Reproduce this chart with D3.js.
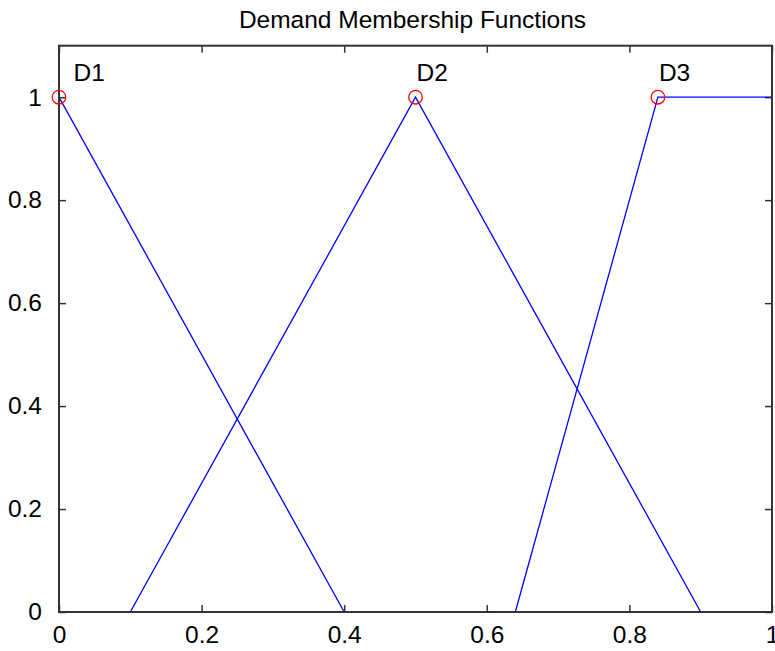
<!DOCTYPE html>
<html>
<head>
<meta charset="utf-8">
<script src="https://cdn.jsdelivr.net/npm/d3@7"></script>
<style>
  html, body { margin: 0; padding: 0; background: #fff; }
  svg { display: block; }
  text { font-family: "Liberation Sans", Arial, sans-serif; fill: #000; }
</style>
</head>
<body>
<svg id="chart" width="775" height="651"></svg>
<script>
// Membership functions over normalised demand
const mfNames = ["D1", "D2", "D3"];
const mfX = [
  [0, 0.4],
  [0.1, 0.5, 0.9],
  [0.64, 0.84, 1]
];
const mfY = [
  [1, 0],
  [0, 1, 0],
  [0, 1, 1]
];
const peakX = [0, 0.5, 0.84];
const labelX = [0.019, 0.5, 0.84];
const xTicks = [0, 0.2, 0.4, 0.6, 0.8, 1];
const yTicks = [0, 0.2, 0.4, 0.6, 0.8, 1];
const xTickLabels = ["0", "0.2", "0.4", "0.6", "0.8", "1"];
const yTickLabels = ["0", "0.2", "0.4", "0.6", "0.8", "1"];
const title = "Demand Membership Functions";

const svg = d3.select("#chart");
const plotLeft = 59, plotRight = 772, plotTop = 45.7, plotBottom = 612;

const x = d3.scaleLinear().domain([0, 1]).range([plotLeft, plotRight]);
const y = d3.scaleLinear().domain([0, 1.1]).range([plotBottom, plotTop]);

const fontSize = 24.5;
const tickLen = 7;
const axisColor = "#333";

// Ticks (inward on all four sides)
const g = svg.append("g");
const bottomAxis = d3.axisBottom(x).tickValues(xTicks).tickSizeInner(-tickLen).tickSizeOuter(0)
  .tickFormat((d, i) => xTickLabels[i]).tickPadding(14);
const leftAxis = d3.axisLeft(y).tickValues(yTicks).tickSizeInner(-tickLen).tickSizeOuter(0)
  .tickFormat((d, i) => yTickLabels[i]).tickPadding(17);
const topAxis = d3.axisTop(x).tickValues(xTicks).tickSizeInner(-tickLen).tickSizeOuter(0).tickFormat("");
const rightAxis = d3.axisRight(y).tickValues(yTicks).tickSizeInner(-tickLen).tickSizeOuter(0).tickFormat("");

function styleAxis(sel) {
  sel.select(".domain").remove();
  sel.selectAll("line").attr("stroke", axisColor).attr("stroke-width", 1.5);
  sel.selectAll("text").attr("font-size", fontSize).attr("font-family", "Liberation Sans, Arial, sans-serif").attr("fill", "#000");
}
g.append("g").attr("transform", `translate(0,${plotBottom})`).call(bottomAxis).call(styleAxis);
g.append("g").attr("transform", `translate(${plotLeft},0)`).call(leftAxis).call(styleAxis);
g.append("g").attr("transform", `translate(0,${plotTop})`).call(topAxis).call(styleAxis);
g.append("g").attr("transform", `translate(${plotRight},0)`).call(rightAxis).call(styleAxis);

// Membership function lines
const line = d3.line().x(d => x(d[0])).y(d => y(d[1]));
mfX.forEach((xs, i) => {
  const pts = xs.map((v, j) => [v, mfY[i][j]]);
  svg.append("path").attr("d", line(pts))
    .attr("fill", "none").attr("stroke", "#0000ff").attr("stroke-width", 1.3);
});

// Axes box
svg.append("rect")
  .attr("x", plotLeft).attr("y", plotTop)
  .attr("width", plotRight - plotLeft).attr("height", plotBottom - plotTop)
  .attr("fill", "none").attr("stroke", axisColor).attr("stroke-width", 2);

// Peak markers
svg.selectAll("circle.peak").data(peakX).enter().append("circle")
  .attr("class", "peak")
  .attr("cx", d => x(d)).attr("cy", y(1)).attr("r", 6.8)
  .attr("fill", "none").attr("stroke", "#ff0000").attr("stroke-width", 1.3);

// Labels
svg.selectAll("text.mf").data(mfNames).enter().append("text")
  .attr("class", "mf")
  .attr("x", (d, i) => x(labelX[i]) + 1)
  .attr("y", y(1) - 16)
  .attr("font-size", fontSize)
  .text(d => d);

// Title
svg.append("text")
  .attr("x", (plotLeft + plotRight) / 2 - 3).attr("y", 28)
  .attr("text-anchor", "middle")
  .attr("font-size", fontSize)
  .text(title);
</script>
</body>
</html>
